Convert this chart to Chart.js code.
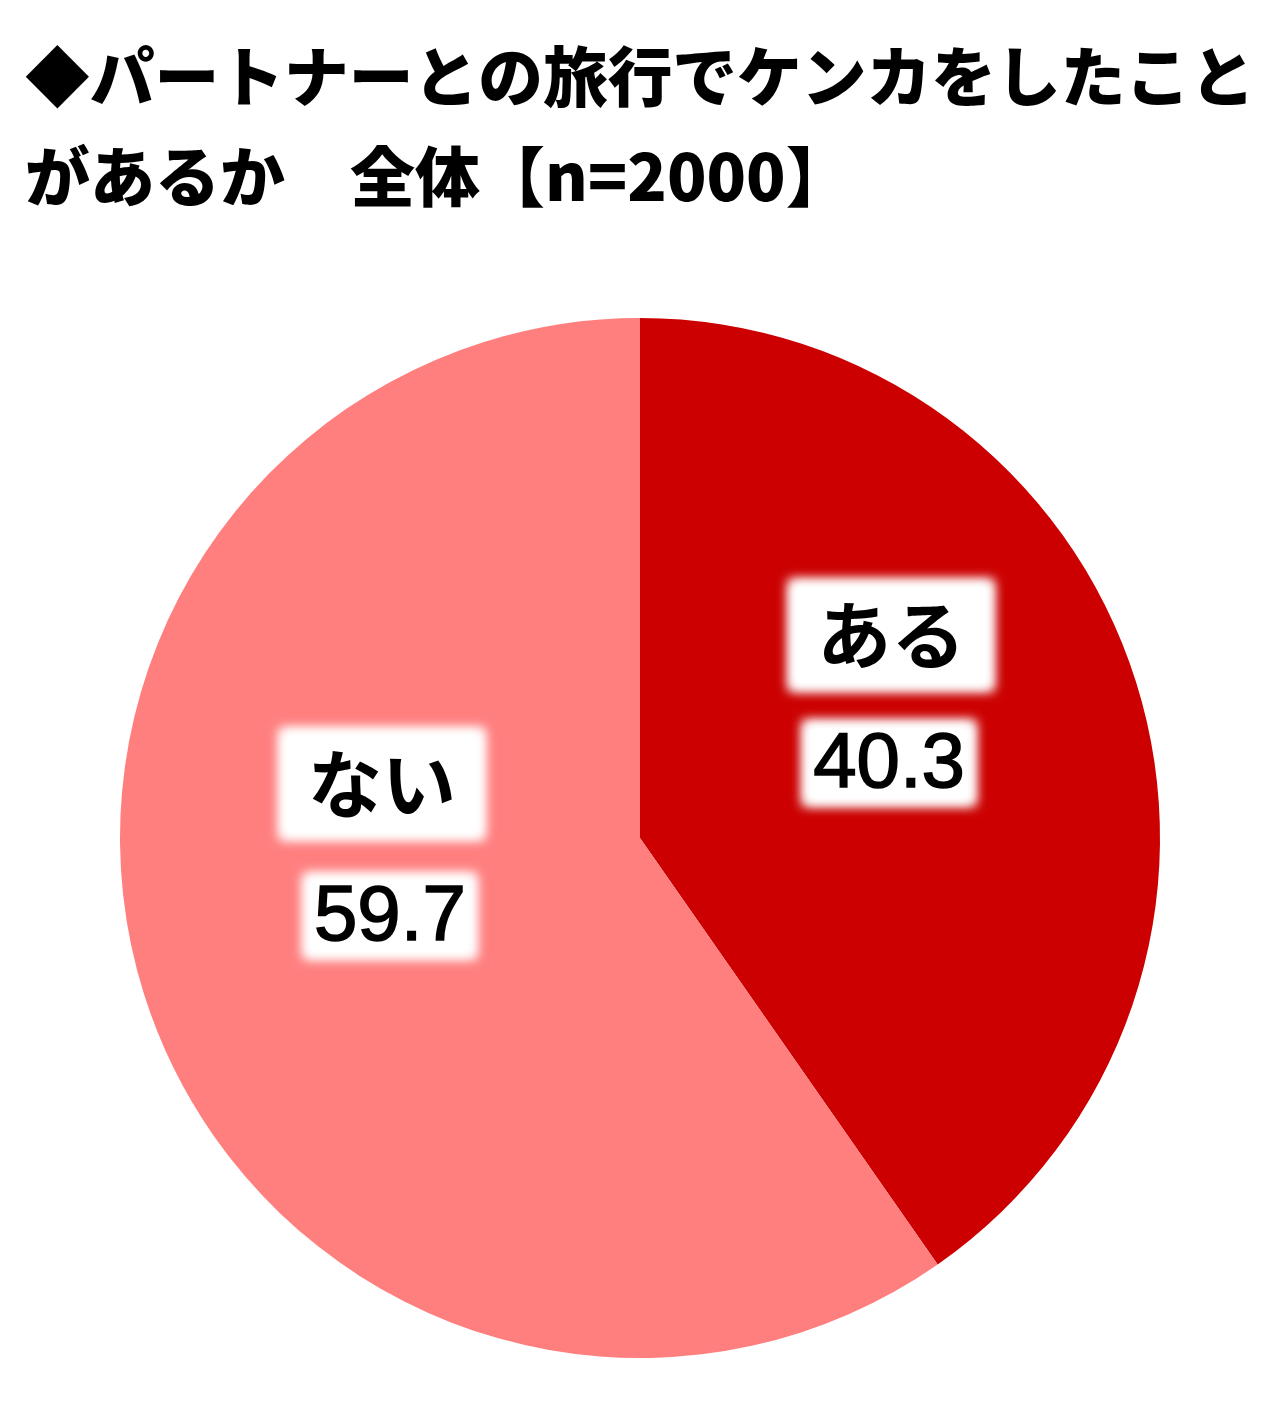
<!DOCTYPE html>
<html lang="ja"><head>
<meta charset="utf-8">
<title>パートナーとの旅行でケンカをしたことがあるか</title>
<style>
* { margin: 0; padding: 0 }
body { background: #fff; }
#Wrap { width: 1287px; height: 1414px; position: relative; }
</style>
<script src="https://cdn.jsdelivr.net/npm/chart.js"></script>
<script>

const TITLE_LINES = ["◆パートナーとの旅行でケンカをしたこと", "があるか　全体【n=2000】"];
const categories = ["ある", "ない"];
const values = [40.3, 59.7];
const colors = ["#CC0000", "#FF7F7F"];

// label placement, as fractions of the pie radius from its centre
const labelSpots = [
    { name: [0.483, -0.390], value: [0.479, -0.144] },
    { name: [-0.496, -0.104], value: [-0.481, 0.150] },
];

function get(id) {
    return document.getElementById(id);
}

function softBox(ctx, cx, cy, w, h) {
    ctx.save();
    ctx.fillStyle = "#fff";
    ctx.filter = "blur(6px)";
    ctx.fillRect(cx - w / 2 + 3, cy - h / 2 + 3, w - 6, h - 6);
    ctx.fillRect(cx - w / 2 + 6, cy - h / 2 + 6, w - 12, h - 12);
    ctx.filter = "none";
    ctx.fillRect(cx - w / 2 + 12, cy - h / 2 + 12, w - 24, h - 24);
    ctx.restore();
}

const sliceLabels = {
    id: "sliceLabels",
    afterDatasetsDraw(chart) {
        const ctx = chart.ctx;
        const meta = chart.getDatasetMeta(0);
        meta.data.forEach((arc, i) => {
            const p = arc.getProps(["x", "y", "outerRadius"], true);
            const spot = labelSpots[i];
            const nx = p.x + spot.name[0] * p.outerRadius;
            const ny = p.y + spot.name[1] * p.outerRadius;
            const vx = p.x + spot.value[0] * p.outerRadius;
            const vy = p.y + spot.value[1] * p.outerRadius;

            softBox(ctx, nx, ny, 212, 118);
            softBox(ctx, vx, vy, 180, 92);

            ctx.save();
            ctx.fillStyle = "#000";
            ctx.strokeStyle = "#000";
            ctx.textAlign = "center";
            ctx.textBaseline = "middle";
            ctx.font = '700 74px "Noto Sans CJK JP"';
            ctx.fillText(categories[i], nx, ny);
            ctx.font = '400 78px "Liberation Sans"';
            ctx.lineWidth = 1.6;
            const txt = values[i].toFixed(1);
            ctx.fillText(txt, vx, vy + 2);
            ctx.strokeText(txt, vx, vy + 2);
            ctx.restore();
        });
    },
};

function bodyOnLoad() {
    new Chart(get("PieChart"), {
        type: "pie",
        data: {
            labels: categories,
            datasets: [{
                data: values,
                backgroundColor: colors,
                borderWidth: 0,
            }],
        },
        options: {
            responsive: true,
            maintainAspectRatio: false,
            animation: false,
            layout: {
                padding: { top: 0, left: 25, right: 32, bottom: 56 },
            },
            plugins: {
                legend: { display: false },
                tooltip: { enabled: false },
                title: {
                    display: true,
                    text: TITLE_LINES,
                    align: "start",
                    color: "#000",
                    font: {
                        family: '"Noto Sans CJK JP"',
                        size: 65,
                        weight: "900",
                        lineHeight: 100 / 65,
                    },
                    padding: { top: 26, bottom: 92 },
                },
            },
        },
        plugins: [sliceLabels],
    });
}

</script>
</head><body onload="bodyOnLoad()">

<div id="Wrap"><canvas id="PieChart"></canvas></div>

</body></html>
